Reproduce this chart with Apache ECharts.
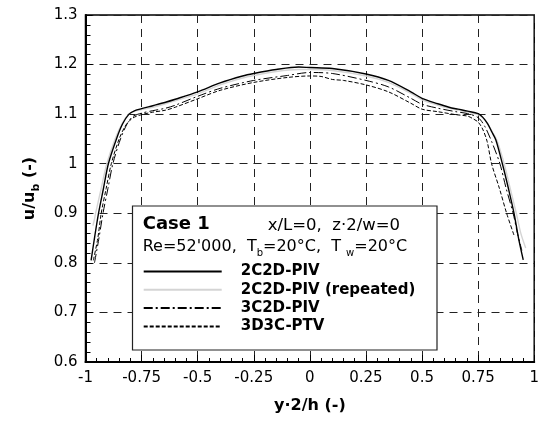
<!DOCTYPE html>
<html><head><meta charset="utf-8">
<script src="https://cdn.jsdelivr.net/npm/echarts@6/dist/echarts.min.js"></script>
<style>html,body{margin:0;padding:0;background:#fff}#c{width:542px;height:421px}</style>
</head><body><div id="c"></div>
<script>
const FONT = 'DejaVu Sans';
const xMin = -1, xMax = 1, xInterval = 0.25;
const yMin = 0.6, yMax = 1.3, yInterval = 0.1;
const seriesNames = ['2C2D-PIV', '2C2D-PIV (repeated)', '3C2D-PIV', '3D3C-PTV'];

// 2C2D-PIV (solid black)
const piv2c_x = [-0.975,-0.96,-0.942,-0.92,-0.898,-0.862,-0.835,-0.806,-0.78,-0.75,-0.70,-0.643,-0.6,-0.5,-0.4,-0.3,-0.25,-0.15,-0.05,0,0.1,0.25,0.35,0.45,0.5,0.57,0.62,0.66,0.703,0.75,0.77,0.792,0.81,0.829,0.858,0.885,0.91,0.93,0.951];
const piv2c_y = [0.805,0.85,0.90,0.95,1.00,1.05,1.08,1.10,1.107,1.111,1.117,1.124,1.13,1.145,1.163,1.177,1.182,1.19,1.195,1.194,1.192,1.181,1.168,1.145,1.132,1.121,1.114,1.110,1.106,1.101,1.094,1.081,1.065,1.048,1.00,0.95,0.90,0.85,0.806];

// 2C2D-PIV repeated (light grey)
const piv2cRep_x = [-0.967,-0.96,-0.955,-0.93,-0.905,-0.868,-0.838,-0.808,-0.78,-0.75,-0.70,-0.643,-0.6,-0.5,-0.4,-0.3,-0.25,-0.15,-0.05,0,0.1,0.25,0.35,0.45,0.5,0.57,0.62,0.66,0.703,0.75,0.772,0.795,0.815,0.835,0.866,0.893,0.92,0.94,0.962];
const piv2cRep_y = [0.875,0.888,0.90,0.95,1.00,1.05,1.08,1.10,1.106,1.109,1.114,1.121,1.127,1.141,1.159,1.173,1.178,1.186,1.19,1.19,1.188,1.177,1.164,1.142,1.129,1.118,1.112,1.108,1.104,1.099,1.092,1.079,1.063,1.046,1.00,0.95,0.90,0.86,0.83];

// 3C2D-PIV (dash-dot)
const piv3c_x = [-0.96,-0.94,-0.922,-0.90,-0.878,-0.844,-0.815,-0.79,-0.75,-0.70,-0.643,-0.6,-0.5,-0.4,-0.25,-0.1,0,0.1,0.25,0.35,0.45,0.5,0.57,0.65,0.703,0.75,0.78,0.81,0.847,0.875,0.906,0.925,0.945];
const piv3c_y = [0.80,0.85,0.90,0.95,1.00,1.05,1.08,1.095,1.102,1.107,1.112,1.118,1.136,1.152,1.168,1.178,1.184,1.182,1.168,1.155,1.132,1.12,1.112,1.105,1.101,1.093,1.075,1.045,1.00,0.95,0.90,0.86,0.825];

// 3D3C-PTV (dashed)
const ptv_x = [-0.965,-0.945,-0.93,-0.908,-0.885,-0.85,-0.82,-0.79,-0.75,-0.70,-0.643,-0.6,-0.5,-0.4,-0.25,-0.1,0,0.05,0.1,0.15,0.25,0.35,0.45,0.5,0.57,0.65,0.703,0.73,0.75,0.77,0.79,0.81,0.845,0.877,0.912];
const ptv_y = [0.805,0.85,0.90,0.95,1.00,1.05,1.078,1.092,1.099,1.104,1.108,1.114,1.131,1.148,1.164,1.174,1.177,1.176,1.170,1.168,1.159,1.145,1.122,1.11,1.105,1.099,1.096,1.09,1.084,1.07,1.045,1.00,0.95,0.90,0.853];

const zip = (xs, ys) => xs.map((x, i) => [x, ys[i]]);

const chart = echarts.init(document.getElementById('c'), null, {renderer: 'canvas'});
const axisLabelStyle = {fontFamily: FONT, fontSize: 15, color: '#000'};
const splitLineStyle = {show: true, lineStyle: {color: '#222', width: 1, type: [8, 6]}};

function lineSeries(name, data, lineStyle, z) {
  return {name, type: 'line', data, symbol: 'none', smooth: 0.3, lineStyle, z, animation: false};
}

chart.setOption({
  animation: false,
  grid: {left: 85.5, right: 5, top: 15, bottom: 59, show: true, borderColor: '#000', borderWidth: 1.5, backgroundColor: 'transparent'},
  xAxis: {
    type: 'value', min: xMin, max: xMax, interval: xInterval,
    name: 'y·2/h (-)', nameLocation: 'middle', nameGap: 36,
    nameTextStyle: {fontFamily: FONT, fontSize: 16, fontWeight: 'bold', color: '#000'},
    axisLine: {show: true, onZero: false, lineStyle: {color: '#000', width: 2}},
    axisTick: {show: true, inside: true, length: 7, lineStyle: {color: '#000', width: 1}},
    minorTick: {show: true, splitNumber: 5, length: 4, lineStyle: {color: '#000', width: 1}},
    axisLabel: Object.assign({margin: 9}, axisLabelStyle),
    splitLine: splitLineStyle
  },
  yAxis: {
    type: 'value', min: yMin, max: yMax, interval: yInterval,
    name: '{a|u/u}{s|b}{a| (-)}', nameLocation: 'middle', nameGap: 44,
    nameTextStyle: {fontFamily: FONT, fontSize: 16, fontWeight: 'bold', color: '#000',
      rich: {a: {fontFamily: FONT, fontSize: 16, fontWeight: 'bold', color: '#000', lineHeight: 24},
             s: {fontFamily: FONT, fontSize: 11, fontWeight: 'bold', color: '#000', lineHeight: 12, verticalAlign: 'bottom'}}},
    axisLine: {show: true, onZero: false, lineStyle: {color: '#000', width: 2}},
    axisTick: {show: true, inside: true, length: 7, lineStyle: {color: '#000', width: 1}},
    minorTick: {show: true, splitNumber: 5, length: 5, lineStyle: {color: '#000', width: 1}},
    axisLabel: Object.assign({margin: 8}, axisLabelStyle),
    splitLine: splitLineStyle
  },
  legend: {
    orient: 'vertical', left: 137.7, top: 259, z: 20,
    itemWidth: 78, itemHeight: 14, itemGap: 3.3,
    itemStyle: {opacity: 0},
    textStyle: {fontFamily: FONT, fontSize: 15, fontWeight: 'bold', color: '#000', lineHeight: 14, padding: [0, 0, 0, 14]},
    data: seriesNames
  },
  graphic: [
    {type: 'rect', z: 10, shape: {x: 132.5, y: 206, width: 304.5, height: 144}, style: {fill: '#fff', stroke: '#222', lineWidth: 1.2}},
    {type: 'text', z: 21, x: 142.7, y: 224.5, style: {text: 'Case 1', fontFamily: FONT, fontSize: 18, fontWeight: 'bold', fill: '#000', verticalAlign: 'middle'}},
    {type: 'text', z: 21, x: 267.7, y: 226, style: {text: 'x/L=0,  z·2/w=0', fontFamily: FONT, fontSize: 16.5, fill: '#000', verticalAlign: 'middle'}},
    {type: 'text', z: 21, x: 142.7, y: 246.5, style: {
      text: "{m|Re=52'000,  T}{s|b}{m|=20°C,  T }{s|w}{m|=20°C}", verticalAlign: 'middle',
      rich: {m: {fontFamily: FONT, fontSize: 16, fill: '#000', color: '#000', lineHeight: 24},
             s: {fontFamily: FONT, fontSize: 10, fill: '#000', color: '#000', lineHeight: 11, verticalAlign: 'bottom'}}}}
  ],
  series: [
    lineSeries(seriesNames[0], zip(piv2c_x, piv2c_y), {color: '#000', width: 1.4, type: 'solid'}, 5),
    lineSeries(seriesNames[1], zip(piv2cRep_x, piv2cRep_y), {color: '#d4d4d4', width: 1.4, type: 'solid'}, 3),
    lineSeries(seriesNames[2], zip(piv3c_x, piv3c_y), {color: '#000', width: 1, type: [9, 3, 2, 3]}, 4),
    lineSeries(seriesNames[3], zip(ptv_x, ptv_y), {color: '#000', width: 1, type: [4, 2]}, 4)
  ]
});
</script></body></html>
